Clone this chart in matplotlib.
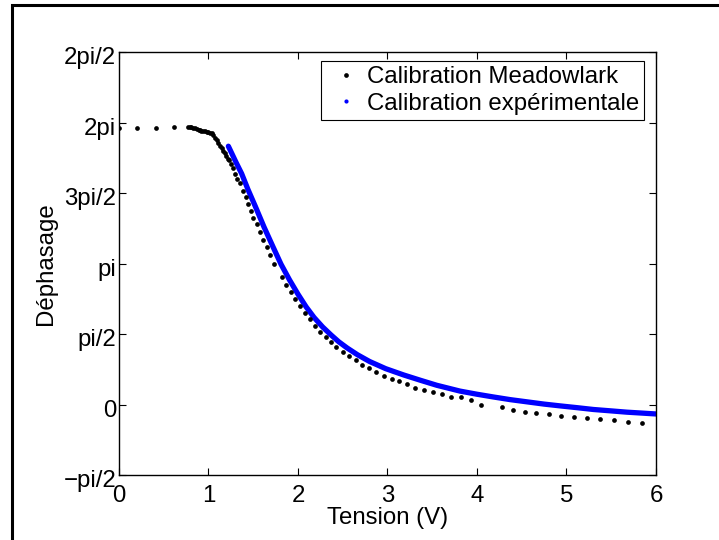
import numpy as np
import matplotlib
matplotlib.use("Agg")
import matplotlib.pyplot as plt
import matplotlib.transforms as mtransforms
from matplotlib.lines import Line2D
from matplotlib.patches import Rectangle

plt.rcParams['font.family'] = ['Liberation Sans', 'DejaVu Sans']

# Meadowlark calibration: voltage (V) vs phase (rad)
meadowlark_v = [0.0, 0.205, 0.41, 0.61,
                0.775, 0.79, 0.81, 0.83, 0.85, 0.87, 0.89, 0.905, 0.92, 0.94, 0.96, 0.98,
                1.0, 1.02, 1.036, 1.05, 1.073, 1.09, 1.11, 1.13, 1.147, 1.165, 1.184, 1.20, 1.22,
                1.233, 1.25, 1.277, 1.296, 1.32, 1.352, 1.382, 1.419, 1.445, 1.472, 1.50,
                1.54, 1.575, 1.613, 1.65, 1.687, 1.732, 1.818, 1.866, 1.918, 1.97, 2.02,
                2.078, 2.134, 2.19, 2.246, 2.313, 2.37, 2.43, 2.50, 2.574, 2.648, 2.72,
                2.793, 2.871, 2.96, 3.047, 3.132, 3.22, 3.31, 3.408, 3.505, 3.606, 3.709,
                3.818, 3.93, 4.045, 4.283, 4.406, 4.533, 4.663, 4.80, 4.94, 5.08, 5.226,
                5.371, 5.531, 5.684, 5.847]
meadowlark_phase = [6.17, 6.16, 6.16, 6.19,
                    6.19, 6.19, 6.18, 6.17, 6.16, 6.15, 6.13, 6.12, 6.11, 6.10, 6.09, 6.08,
                    6.07, 6.06, 6.05, 6.01, 5.95, 5.89, 5.83, 5.77, 5.71, 5.65, 5.60, 5.54, 5.48,
                    5.45, 5.36, 5.27, 5.15, 5.04, 4.93, 4.77, 4.62, 4.47, 4.32, 4.17,
                    4.02, 3.85, 3.68, 3.52, 3.33, 3.13, 2.85, 2.66, 2.51, 2.35, 2.20,
                    2.05, 1.90, 1.76, 1.62, 1.50, 1.39, 1.28, 1.17, 1.08, 0.99, 0.89,
                    0.81, 0.73, 0.64, 0.58, 0.52, 0.45, 0.38, 0.32, 0.27, 0.23, 0.17,
                    0.16, 0.10, -0.01, -0.06, -0.13, -0.17, -0.19, -0.20, -0.26, -0.27, -0.31,
                    -0.33, -0.35, -0.38, -0.41]

# Experimental calibration
exp_v = [1.222, 1.31, 1.37, 1.44, 1.525, 1.62, 1.72, 1.81, 1.905, 2.00, 2.09, 2.18,
         2.275, 2.37, 2.455, 2.55, 2.665, 2.80, 2.98, 3.18, 3.37, 3.55, 3.81,
         4.00, 4.18, 4.37, 4.56, 4.75, 4.93, 5.12, 5.30, 5.49, 5.675, 5.84, 6.0]
exp_phase = [5.76, 5.39, 5.15, 4.80, 4.41, 3.96, 3.52, 3.13, 2.78, 2.46, 2.18, 1.94,
             1.73, 1.55, 1.40, 1.26, 1.11, 0.96, 0.80, 0.66, 0.54, 0.43, 0.30,
             0.23, 0.17, 0.11, 0.06, 0.01, -0.03, -0.07, -0.11, -0.14, -0.17, -0.19, -0.21]

ytick_vals = [-np.pi / 2, 0, np.pi / 2, np.pi, 3 * np.pi / 2, 2 * np.pi, 5 * np.pi / 2]
ytick_labels = ['\u2212pi/2', '0', 'pi/2', 'pi', '3pi/2', '2pi', '2pi/2']
xtick_vals = [0, 1, 2, 3, 4, 5, 6]

fs = 17.3

fig = plt.figure(figsize=(7.19, 5.40), dpi=100)
ax = fig.add_axes([119 / 719, 1 - 475 / 540, (656 - 119) / 719, (475 - 52.3) / 540])

ax.plot(exp_v, exp_phase, color='#0000ff', lw=3.8, solid_capstyle='round', zorder=2)
ax.plot(meadowlark_v, meadowlark_phase, 'o', color='black', ms=3.4, mew=0, zorder=3)

ax.set_xlim(0, 6)
ax.set_ylim(-np.pi / 2, 5 * np.pi / 2)
ax.set_xticks(xtick_vals)
ax.set_yticks(ytick_vals)
ax.set_yticklabels(ytick_labels)
ax.tick_params(direction='in', length=5, width=0.8, top=True, right=True,
               labelsize=fs, colors='black')
ax.tick_params(axis='x', pad=7)
ax.tick_params(axis='y', pad=2)
for s in ax.spines.values():
    s.set_linewidth(1.0)

# y tick labels sit a touch below their ticks
shift = mtransforms.ScaledTranslation(0, -2.5 / 72, fig.dpi_scale_trans)
for lbl in ax.get_yticklabels():
    lbl.set_transform(lbl.get_transform() + shift)

ax.set_xlabel('Tension (V)', fontsize=fs, labelpad=0)
ax.set_ylabel('Déphasage', fontsize=fs, labelpad=5)

handles = [Line2D([], [], ls='none', marker='o', ms=3.4, mew=0, color='black'),
           Line2D([], [], ls='none', marker='o', ms=3.0, mew=0, color='#0000ff')]
leg = ax.legend(handles, ['Calibration Meadowlark', 'Calibration expérimentale'],
                loc='upper right', bbox_to_anchor=(0.978, 0.979), fontsize=fs,
                frameon=True, fancybox=False, edgecolor='black', framealpha=1,
                borderpad=0.2, labelspacing=0.2, handlelength=1.6, handletextpad=0.1,
                borderaxespad=0)
leg.get_frame().set_linewidth(0.8)

# outer figure frame
fig.add_artist(Rectangle((12 / 719, -0.1), 1.2, 1 - 5 / 540 + 0.1,
                         transform=fig.transFigure, fill=False,
                         edgecolor='black', lw=2.2, zorder=10))

fig.savefig('out.png', dpi=100)
